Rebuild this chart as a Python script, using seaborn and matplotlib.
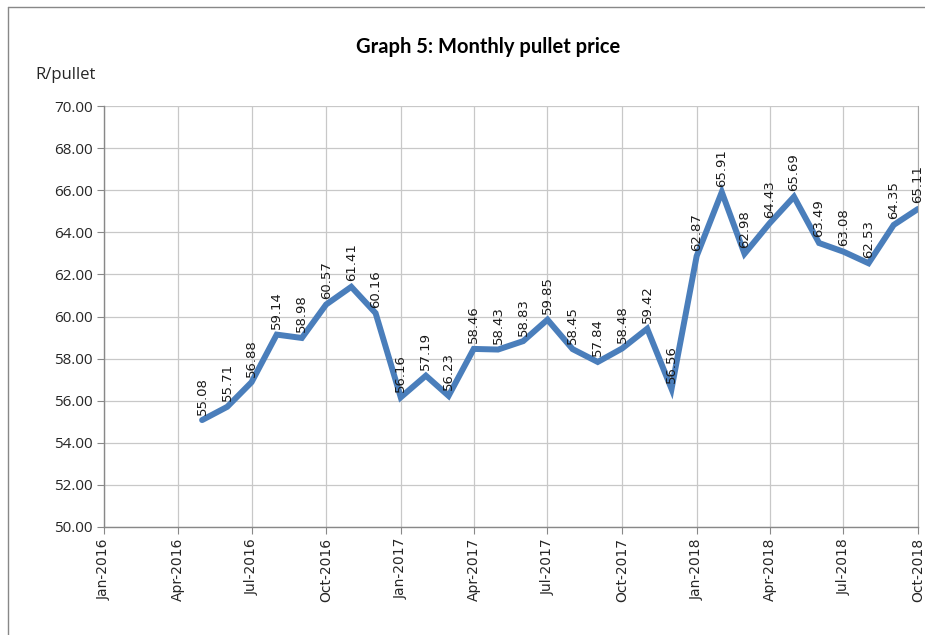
import numpy as np
import pandas as pd
import matplotlib
matplotlib.use('Agg')
import matplotlib.pyplot as plt
from matplotlib.lines import Line2D
import seaborn as sb

# monthly pullet price, May 2016 - Oct 2018
months = pd.date_range('2016-05-01', '2018-10-01', freq='MS')
prices = [55.08, 55.71, 56.88, 59.14, 58.98, 60.57, 61.41, 60.16,
          56.16, 57.19, 56.23, 58.46, 58.43, 58.83, 59.85, 58.45,
          57.84, 58.48, 59.42, 56.56, 62.87, 65.91, 62.98, 64.43,
          65.69, 63.49, 63.08, 62.53, 64.35, 65.11]
tick_dates = pd.date_range('2016-01-01', '2018-10-01', freq='QS')

df = pd.DataFrame({'month': months, 'price': prices})

sb.set_style('white')
plt.rcParams['font.family'] = ['DejaVu Sans']

fig = plt.figure(figsize=(9.25, 6.35), dpi=100)
ax = fig.add_axes([104/925, 1-527/635, (918-104)/925, (527-106)/635])

sb.lineplot(data=df, x='month', y='price', ax=ax, color='#4a7ebb',
            linewidth=4.3, solid_joinstyle='miter')

for d, v in zip(df['month'], df['price']):
    ax.annotate(f'{v:.2f}', (d, v), xytext=(0, 4), textcoords='offset points',
                rotation=90, ha='center', va='bottom', fontsize=9.5,
                color='#1a1a1a')

ax.set_xlim(tick_dates[0], tick_dates[-1])
ax.set_ylim(50, 70)
ax.set_yticks(np.arange(50, 70.1, 2))
ax.set_yticklabels([f'{t:.2f}' for t in np.arange(50, 70.1, 2)],
                   family='Open Sans', fontsize=11)
ax.set_xticks(tick_dates)
ax.set_xticklabels([d.strftime('%b-%Y') for d in tick_dates], rotation=90,
                   fontsize=10)
ax.grid(True, color='#c8c8c8', linewidth=0.9)
ax.tick_params(axis='both', length=5, color='#888888', direction='out',
               bottom=True, left=True, pad=3)
ax.set_xlabel('')
ax.set_ylabel('')
ax.spines['top'].set_visible(False)
ax.spines['right'].set_color('#aaaaaa')
for s in ['left', 'bottom']:
    ax.spines[s].set_color('#888888')
    ax.spines[s].set_linewidth(1.0)

fig.text(488/925, 1-47/635, 'Graph 5: Monthly pullet price', ha='center',
         va='center', fontsize=14.5, fontweight='bold', family='Lato',
         color='black')
fig.text(35/925, 1-75/635, 'R/pullet', ha='left', va='center',
         fontsize=12, family='Open Sans')

# outer chart border (left and top edges visible)
fig.add_artist(Line2D([8/925, 8/925], [0, 1-7/635], color='#888888', lw=1,
                      transform=fig.transFigure))
fig.add_artist(Line2D([8/925, 1], [1-7/635, 1-7/635], color='#888888', lw=1,
                      transform=fig.transFigure))

fig.savefig('out.png', dpi=100)
